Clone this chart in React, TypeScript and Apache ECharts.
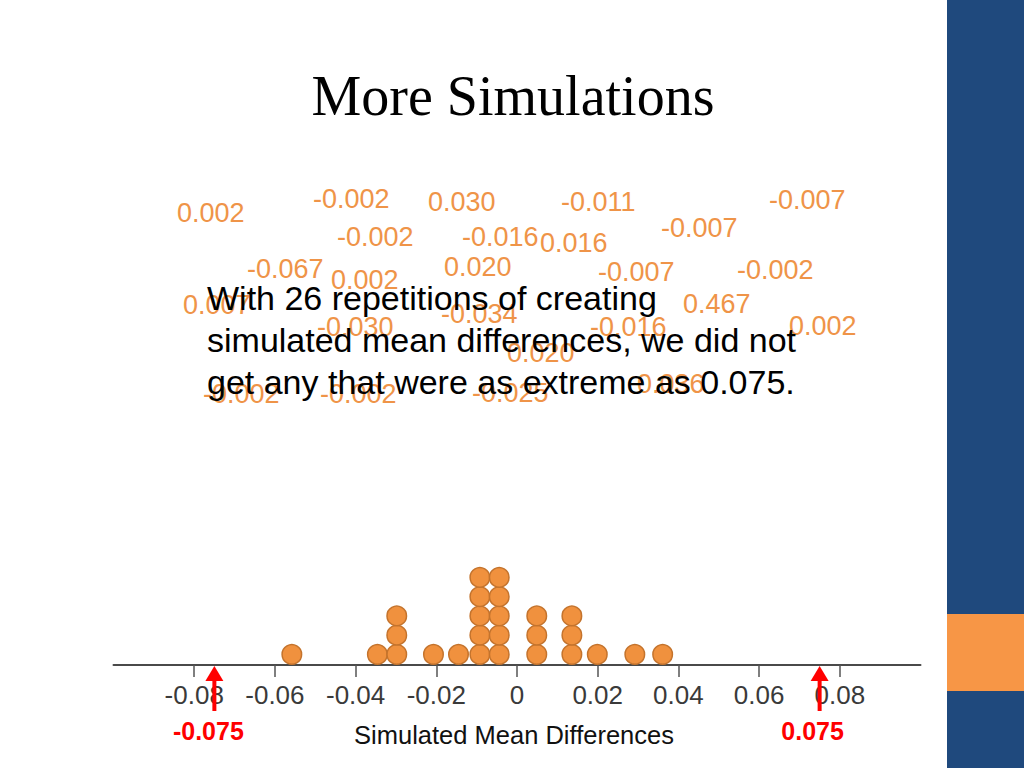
import React, { useEffect, useRef } from "react";
import * as echarts from "echarts";

const TITLE = "More Simulations";
const AXIS_NAME = "Simulated Mean Differences";

// dot plot: simulated mean differences (stack positions) and how many dots at each
const DOT_VALUES = [-0.0558, -0.0346, -0.0298, -0.0207, -0.0145, -0.0092, -0.0044, 0.0049, 0.0136, 0.0199, 0.0292, 0.0361];
const DOT_COUNTS = [1, 1, 3, 1, 1, 5, 5, 3, 3, 1, 1, 1];

const TICK_VALUES = [-0.08, -0.06, -0.04, -0.02, 0, 0.02, 0.04, 0.06, 0.08];
const TICK_LABELS = ["-0.08", "-0.06", "-0.04", "-0.02", "0", "0.02", "0.04", "0.06", "0.08"];

const OBSERVED = [-0.075, 0.075];
const OBSERVED_LABELS = ["-0.075", "0.075"];

// scattered simulated values written on the slide
const SIM_LABELS = [
  "0.002", "-0.002", "0.030", "-0.011", "-0.007", "-0.002", "-0.016", "0.016", "-0.007",
  "-0.067", "0.020", "-0.007", "-0.002", "0.002", "0.007", "0.467", "-0.034", "-0.030",
  "-0.016", "0.002", "0.020", "-0.002", "-0.002", "-0.025", "0.036",
];
// layout only: left x, middle y of each label
const SIM_LABEL_POS: [number, number][] = [
  [177, 213], [313, 199], [428, 202], [561, 202], [769, 200], [337, 237], [462, 237], [540, 243], [661, 228],
  [247, 269], [444, 267], [598, 272], [737, 270], [331, 280], [183, 305], [683, 304], [441, 314], [317, 327],
  [590, 327], [789, 326], [507, 353], [203, 394], [320, 394], [472, 393], [637, 384],
];

const BODY_LINES = [
  "With 26 repetitions of creating",
  "simulated mean differences, we did not",
  "get any that were as extreme as 0.075.",
];

export default function App() {
  const ref = useRef<HTMLDivElement>(null);

  useEffect(() => {
    const chart = echarts.init(ref.current!, null, { renderer: "svg" });
    const points: number[][] = [];
    DOT_VALUES.forEach((v, i) => {
      for (let k = 1; k <= DOT_COUNTS[i]; k++) points.push([v, k]);
    });

    chart.setOption({
      animation: false,
      backgroundColor: "#ffffff",
      grid: { left: 113.5, right: 103.5, top: 472.5, bottom: 103 },
      xAxis: {
        type: "value",
        min: -0.1,
        max: 0.1,
        interval: 0.02,
        splitLine: { show: false },
        axisLine: { show: true, onZero: false, lineStyle: { color: "#4a4a4a", width: 2 } },
        axisTick: { show: true, length: 12, customValues: TICK_VALUES, lineStyle: { color: "#555", width: 1.5 } },
        axisLabel: {
          customValues: TICK_VALUES,
          margin: 17,
          fontSize: 26,
          fontFamily: "Liberation Sans",
          color: "#3a3a3a",
          formatter: (v: number) => {
            const i = TICK_VALUES.findIndex((t) => Math.abs(t - v) < 1e-9);
            return i >= 0 ? TICK_LABELS[i] : "";
          },
        },
      },
      yAxis: { type: "value", min: 0.45, max: 10.45, show: false },
      series: [
        {
          type: "scatter",
          data: points,
          symbolSize: 19.5,
          itemStyle: { color: "#F0913E", borderColor: "#C4732C", borderWidth: 1.5, opacity: 1 },
        },
      ],
    });

    const axisY = 665;
    const graphics: any[] = [];
    graphics.push({ type: "rect", shape: { x: 947, y: 0, width: 77, height: 768 }, style: { fill: "#1F497D" }, z: 1 });
    graphics.push({ type: "rect", shape: { x: 947, y: 614, width: 77, height: 77 }, style: { fill: "#F79646" }, z: 2 });
    graphics.push({
      type: "text", x: 513, y: 96, z: 5,
      style: { text: TITLE, fontFamily: "Liberation Serif", fontSize: 56, fill: "#000", align: "center", verticalAlign: "middle" },
    });
    SIM_LABELS.forEach((t, i) => {
      graphics.push({
        type: "text", x: SIM_LABEL_POS[i][0], y: SIM_LABEL_POS[i][1], z: 5,
        style: { text: t, fontFamily: "Liberation Sans", fontSize: 27, fill: "#EF9448", align: "left", verticalAlign: "middle" },
      });
    });
    BODY_LINES.forEach((t, i) => {
      graphics.push({
        type: "text", x: 207, y: 298 + i * 42, z: 10,
        style: { text: t, fontFamily: "Liberation Sans", fontSize: 34, fill: "#000", align: "left", verticalAlign: "middle" },
      });
    });
    OBSERVED.forEach((v, i) => {
      const px = chart.convertToPixel({ xAxisIndex: 0 }, v) as number;
      graphics.push({ type: "line", z: 20, shape: { x1: px, y1: 711, x2: px, y2: 678 }, style: { stroke: "#FF0000", lineWidth: 4 } });
      graphics.push({ type: "polygon", z: 20, shape: { points: [[px, axisY + 1], [px - 9, axisY + 16], [px + 9, axisY + 16]] }, style: { fill: "#FF0000" } });
      graphics.push({
        type: "text", x: px - (i === 0 ? 6 : 7), y: 731, z: 20,
        style: { text: OBSERVED_LABELS[i], fontFamily: "Liberation Sans", fontSize: 25, fontWeight: "bold", fill: "#FF0000", align: "center", verticalAlign: "middle" },
      });
    });
    graphics.push({
      type: "text", x: 514, y: 735, z: 20,
      style: { text: AXIS_NAME, fontFamily: "Liberation Sans", fontSize: 25.5, fill: "#111", align: "center", verticalAlign: "middle" },
    });

    chart.setOption({ graphic: graphics });

    return () => chart.dispose();
  }, []);

  return <div ref={ref} style={{ position: "absolute", left: 0, top: 0, width: 1024, height: 768 }} />;
}
